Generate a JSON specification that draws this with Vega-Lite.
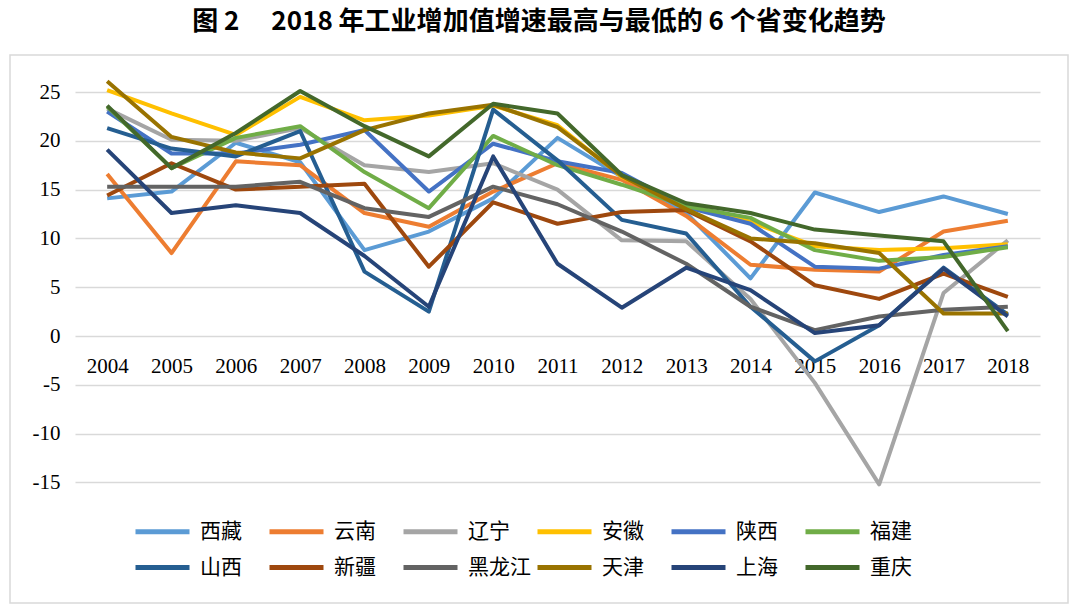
{
"$schema": "https://vega.github.io/schema/vega-lite/v6.json",
"width": 1058, "height": 548,
"autosize": {"type": "none"},
"padding": {"left": 10, "top": 55, "right": 12, "bottom": 10},
"background": "white",
"title": {"text": "图 2　 2018 年工业增加值增速最高与最低的 6 个省变化趋势", "font": "Noto Sans CJK SC", "fontSize": 26, "fontWeight": "bold", "color": "#000", "offset": 20, "anchor": "middle"},
"data": {"values": [
{"province":"西藏","year":"2004","value":14.1},{"province":"西藏","year":"2005","value":14.8},{"province":"西藏","year":"2006","value":19.8},{"province":"西藏","year":"2007","value":17.8},{"province":"西藏","year":"2008","value":8.8},{"province":"西藏","year":"2009","value":10.7},{"province":"西藏","year":"2010","value":14.1},{"province":"西藏","year":"2011","value":20.3},{"province":"西藏","year":"2012","value":16.3},{"province":"西藏","year":"2013","value":12.6},{"province":"西藏","year":"2014","value":5.9},{"province":"西藏","year":"2015","value":14.7},{"province":"西藏","year":"2016","value":12.7},{"province":"西藏","year":"2017","value":14.3},{"province":"西藏","year":"2018","value":12.5},
{"province":"云南","year":"2004","value":16.6},{"province":"云南","year":"2005","value":8.5},{"province":"云南","year":"2006","value":17.9},{"province":"云南","year":"2007","value":17.5},{"province":"云南","year":"2008","value":12.6},{"province":"云南","year":"2009","value":11.2},{"province":"云南","year":"2010","value":14.8},{"province":"云南","year":"2011","value":17.7},{"province":"云南","year":"2012","value":16.0},{"province":"云南","year":"2013","value":12.3},{"province":"云南","year":"2014","value":7.3},{"province":"云南","year":"2015","value":6.8},{"province":"云南","year":"2016","value":6.6},{"province":"云南","year":"2017","value":10.7},{"province":"云南","year":"2018","value":11.8},
{"province":"辽宁","year":"2004","value":23.3},{"province":"辽宁","year":"2005","value":20.1},{"province":"辽宁","year":"2006","value":20.0},{"province":"辽宁","year":"2007","value":21.3},{"province":"辽宁","year":"2008","value":17.5},{"province":"辽宁","year":"2009","value":16.8},{"province":"辽宁","year":"2010","value":17.7},{"province":"辽宁","year":"2011","value":15.0},{"province":"辽宁","year":"2012","value":9.8},{"province":"辽宁","year":"2013","value":9.7},{"province":"辽宁","year":"2014","value":3.8},{"province":"辽宁","year":"2015","value":-4.8},{"province":"辽宁","year":"2016","value":-15.2},{"province":"辽宁","year":"2017","value":4.4},{"province":"辽宁","year":"2018","value":9.8},
{"province":"安徽","year":"2004","value":25.2},{"province":"安徽","year":"2005","value":22.8},{"province":"安徽","year":"2006","value":20.6},{"province":"安徽","year":"2007","value":24.5},{"province":"安徽","year":"2008","value":22.1},{"province":"安徽","year":"2009","value":22.6},{"province":"安徽","year":"2010","value":23.6},{"province":"安徽","year":"2011","value":21.6},{"province":"安徽","year":"2012","value":16.3},{"province":"安徽","year":"2013","value":13.4},{"province":"安徽","year":"2014","value":11.7},{"province":"安徽","year":"2015","value":9.2},{"province":"安徽","year":"2016","value":8.8},{"province":"安徽","year":"2017","value":9.0},{"province":"安徽","year":"2018","value":9.4},
{"province":"陕西","year":"2004","value":23.0},{"province":"陕西","year":"2005","value":18.7},{"province":"陕西","year":"2006","value":18.7},{"province":"陕西","year":"2007","value":19.6},{"province":"陕西","year":"2008","value":21.1},{"province":"陕西","year":"2009","value":14.8},{"province":"陕西","year":"2010","value":19.7},{"province":"陕西","year":"2011","value":17.9},{"province":"陕西","year":"2012","value":16.7},{"province":"陕西","year":"2013","value":13.2},{"province":"陕西","year":"2014","value":11.5},{"province":"陕西","year":"2015","value":7.1},{"province":"陕西","year":"2016","value":6.9},{"province":"陕西","year":"2017","value":8.3},{"province":"陕西","year":"2018","value":9.2},
{"province":"福建","year":"2004","value":23.5},{"province":"福建","year":"2005","value":17.2},{"province":"福建","year":"2006","value":20.3},{"province":"福建","year":"2007","value":21.5},{"province":"福建","year":"2008","value":16.8},{"province":"福建","year":"2009","value":13.1},{"province":"福建","year":"2010","value":20.5},{"province":"福建","year":"2011","value":17.5},{"province":"福建","year":"2012","value":15.5},{"province":"福建","year":"2013","value":13.3},{"province":"福建","year":"2014","value":12.1},{"province":"福建","year":"2015","value":8.8},{"province":"福建","year":"2016","value":7.7},{"province":"福建","year":"2017","value":8.1},{"province":"福建","year":"2018","value":9.1},
{"province":"山西","year":"2004","value":21.3},{"province":"山西","year":"2005","value":19.2},{"province":"山西","year":"2006","value":18.4},{"province":"山西","year":"2007","value":21.0},{"province":"山西","year":"2008","value":6.6},{"province":"山西","year":"2009","value":2.5},{"province":"山西","year":"2010","value":23.2},{"province":"山西","year":"2011","value":18.0},{"province":"山西","year":"2012","value":11.9},{"province":"山西","year":"2013","value":10.5},{"province":"山西","year":"2014","value":3.0},{"province":"山西","year":"2015","value":-2.6},{"province":"山西","year":"2016","value":1.1},{"province":"山西","year":"2017","value":7.0},{"province":"山西","year":"2018","value":2.2},
{"province":"新疆","year":"2004","value":14.4},{"province":"新疆","year":"2005","value":17.7},{"province":"新疆","year":"2006","value":15.0},{"province":"新疆","year":"2007","value":15.3},{"province":"新疆","year":"2008","value":15.6},{"province":"新疆","year":"2009","value":7.1},{"province":"新疆","year":"2010","value":13.7},{"province":"新疆","year":"2011","value":11.5},{"province":"新疆","year":"2012","value":12.7},{"province":"新疆","year":"2013","value":12.9},{"province":"新疆","year":"2014","value":9.7},{"province":"新疆","year":"2015","value":5.2},{"province":"新疆","year":"2016","value":3.8},{"province":"新疆","year":"2017","value":6.4},{"province":"新疆","year":"2018","value":4.0},
{"province":"黑龙江","year":"2004","value":15.3},{"province":"黑龙江","year":"2005","value":15.3},{"province":"黑龙江","year":"2006","value":15.3},{"province":"黑龙江","year":"2007","value":15.8},{"province":"黑龙江","year":"2008","value":13.1},{"province":"黑龙江","year":"2009","value":12.2},{"province":"黑龙江","year":"2010","value":15.3},{"province":"黑龙江","year":"2011","value":13.5},{"province":"黑龙江","year":"2012","value":10.7},{"province":"黑龙江","year":"2013","value":7.4},{"province":"黑龙江","year":"2014","value":3.0},{"province":"黑龙江","year":"2015","value":0.6},{"province":"黑龙江","year":"2016","value":2.0},{"province":"黑龙江","year":"2017","value":2.7},{"province":"黑龙江","year":"2018","value":3.0},
{"province":"天津","year":"2004","value":26.1},{"province":"天津","year":"2005","value":20.4},{"province":"天津","year":"2006","value":18.8},{"province":"天津","year":"2007","value":18.2},{"province":"天津","year":"2008","value":21.1},{"province":"天津","year":"2009","value":22.8},{"province":"天津","year":"2010","value":23.7},{"province":"天津","year":"2011","value":21.4},{"province":"天津","year":"2012","value":16.4},{"province":"天津","year":"2013","value":13.0},{"province":"天津","year":"2014","value":10.0},{"province":"天津","year":"2015","value":9.5},{"province":"天津","year":"2016","value":8.5},{"province":"天津","year":"2017","value":2.3},{"province":"天津","year":"2018","value":2.3},
{"province":"上海","year":"2004","value":19.1},{"province":"上海","year":"2005","value":12.6},{"province":"上海","year":"2006","value":13.4},{"province":"上海","year":"2007","value":12.6},{"province":"上海","year":"2008","value":8.2},{"province":"上海","year":"2009","value":3.0},{"province":"上海","year":"2010","value":18.4},{"province":"上海","year":"2011","value":7.4},{"province":"上海","year":"2012","value":2.9},{"province":"上海","year":"2013","value":7.0},{"province":"上海","year":"2014","value":4.7},{"province":"上海","year":"2015","value":0.3},{"province":"上海","year":"2016","value":1.1},{"province":"上海","year":"2017","value":6.9},{"province":"上海","year":"2018","value":2.0},
{"province":"重庆","year":"2004","value":23.6},{"province":"重庆","year":"2005","value":17.2},{"province":"重庆","year":"2006","value":20.8},{"province":"重庆","year":"2007","value":25.1},{"province":"重庆","year":"2008","value":21.5},{"province":"重庆","year":"2009","value":18.4},{"province":"重庆","year":"2010","value":23.8},{"province":"重庆","year":"2011","value":22.8},{"province":"重庆","year":"2012","value":16.5},{"province":"重庆","year":"2013","value":13.6},{"province":"重庆","year":"2014","value":12.6},{"province":"重庆","year":"2015","value":10.9},{"province":"重庆","year":"2016","value":10.3},{"province":"重庆","year":"2017","value":9.7},{"province":"重庆","year":"2018","value":0.5}
]},
"mark": {"type": "line", "strokeWidth": 4, "strokeJoin": "round"},
"encoding": {
  "x": {"field": "year", "type": "ordinal", "scale": {"type": "point", "range": [65, 1030], "padding": 0.5},
        "axis": {"title": null, "domain": false, "ticks": false, "grid": false, "labelAngle": 0, "labelPadding": 0, "offset": -248, "labelBaseline": "top", "labelFont": "Liberation Serif", "labelFontSize": 21, "labelColor": "#000"}},
  "y": {"field": "value", "type": "quantitative", "scale": {"domain": [-15, 25], "range": [427.4, 37], "nice": false, "zero": false},
        "axis": {"title": null, "values": [-15, -10, -5, 0, 5, 10, 15, 20, 25], "labelExpr": "datum.value + ''", "domain": false, "ticks": false, "labelPadding": 8, "offset": -58, "labelFont": "Liberation Serif", "labelFontSize": 21, "labelColor": "#000", "gridColor": "#d9d9d9", "gridWidth": 1.5}},
  "color": {"field": "province", "type": "nominal",
    "scale": {"domain": ["西藏","云南","辽宁","安徽","陕西","福建","山西","新疆","黑龙江","天津","上海","重庆"],
              "range": ["#5B9BD5","#ED7D31","#A5A5A5","#FFC000","#4472C4","#70AD47","#255E91","#9E480E","#636363","#997300","#264478","#43682B"]},
    "legend": {"title": null, "orient": "none", "legendX": 135, "legendY": 459, "direction": "horizontal", "columns": 6, "symbolType": "M-1.8,0H1.8", "symbolSize": 900, "symbolStrokeWidth": 5, "labelFont": "Noto Sans CJK SC", "labelFontSize": 21, "labelColor": "#000", "labelOffset": 20, "columnPadding": -4, "rowPadding": 8, "gridAlign": "all", "labelLimit": 200}}
},
"config": {"view": {"stroke": "#d9d9d9", "strokeWidth": 1.5}}
}
